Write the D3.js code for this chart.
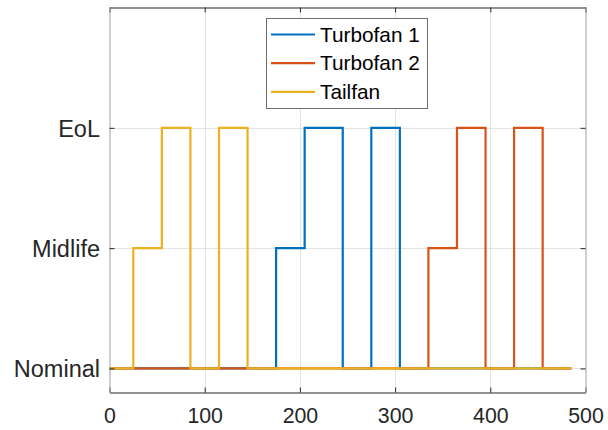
<!DOCTYPE html>
<html lang="en">
<head>
<meta charset="UTF-8">
<title>Engine health states</title>
<script src="https://d3js.org/d3.v7.min.js"></script>
<style>
  body { margin: 0; background: #fff; }
  svg { font-family: "Liberation Sans", Arial, sans-serif; }
</style>
</head>
<body>
<div id="chart"></div>
<script>
// breakpoints in time and the state held from each breakpoint on (0 = Nominal, 1 = Midlife, 2 = EoL)
const times     = [0, 25, 55, 85, 115, 145, 175, 205, 245, 275, 305, 335, 365, 395, 425, 455, 485];
const turbofan1 = [0, 0, 0, 0, 0, 0, 1, 2, 0, 2, 0, 0, 0, 0, 0, 0, 0];
const turbofan2 = [0, 0, 0, 0, 0, 0, 0, 0, 0, 0, 0, 1, 2, 0, 2, 0, 0];
const tailfan   = [0, 1, 2, 0, 2, 0, 0, 0, 0, 0, 0, 0, 0, 0, 0, 0, 0];
const stateLabels = ["Nominal", "Midlife", "EoL"];
const xTicks = [0, 100, 200, 300, 400, 500];

const series = [
  { name: "Turbofan 1", values: turbofan1, color: "#0072BD" },
  { name: "Turbofan 2", values: turbofan2, color: "#D95319" },
  { name: "Tailfan",    values: tailfan,   color: "#EDB120" }
];

const W = 608, H = 430;
const mLeft = 109.5, mRight = 585.5, mTop = 7.5, mBottom = 392.5;

const svg = d3.select("#chart").append("svg")
    .attr("width", W).attr("height", H);

const x = d3.scaleLinear().domain([0, 500]).range([mLeft, mRight]);
const y = d3.scaleLinear().domain([-0.2, 3]).range([mBottom, mTop]);

// grid
const grid = svg.append("g").attr("stroke", "#e3e3e3").attr("stroke-width", 1);
grid.selectAll(".gx").data(xTicks.slice(1, -1)).enter().append("line")
    .attr("x1", d => Math.round(x(d)) + 0.5).attr("x2", d => Math.round(x(d)) + 0.5)
    .attr("y1", mTop).attr("y2", mBottom);
grid.selectAll(".gy").data([0, 1, 2]).enter().append("line")
    .attr("y1", d => Math.round(y(d)) + 0.5).attr("y2", d => Math.round(y(d)) + 0.5)
    .attr("x1", mLeft).attr("x2", mRight);

// lines
const line = d3.line()
    .x((d, i) => x(times[i]))
    .y(d => y(d))
    .curve(d3.curveStepAfter);

svg.append("g").selectAll("path").data(series).enter().append("path")
    .attr("d", d => line(d.values))
    .attr("fill", "none")
    .attr("stroke", d => d.color)
    .attr("stroke-width", 2.2);

// axes
const xAxis = d3.axisBottom(x).tickValues(xTicks).tickSizeInner(-5).tickSizeOuter(0).tickPadding(15.5);
const gx = svg.append("g").attr("transform", `translate(0,${mBottom})`).call(xAxis);
const xTop = d3.axisTop(x).tickValues(xTicks).tickSizeInner(-5).tickSizeOuter(0).tickFormat("");
const gxt = svg.append("g").attr("transform", `translate(0,${mTop})`).call(xTop);

const yAxis = d3.axisLeft(y).tickValues([0, 1, 2]).tickFormat(d => stateLabels[d])
    .tickSizeInner(-5).tickSizeOuter(0).tickPadding(9.5);
const gy = svg.append("g").attr("transform", `translate(${mLeft},0)`).call(yAxis);
const yRight = d3.axisRight(y).tickValues([0, 1, 2]).tickFormat("").tickSizeInner(-5).tickSizeOuter(0);
const gyr = svg.append("g").attr("transform", `translate(${mRight},0)`).call(yRight);

[gx, gxt].forEach(g => {
  g.select(".domain").attr("stroke", "#262626");
  g.selectAll(".tick line").attr("stroke", "#262626");
});
[gy, gyr].forEach(g => {
  g.select(".domain").attr("stroke", "#a0a0a0");
  g.selectAll(".tick line").attr("stroke", "#262626");
});
svg.selectAll(".tick text").attr("fill", "#262626")
    .attr("font-family", "'Liberation Sans', Arial, sans-serif");
gx.selectAll(".tick text").attr("font-size", 21.3).attr("dy", "0.71em");
gy.selectAll(".tick text").attr("font-size", 23.5).attr("dy", "0.35em");

// legend
const legend = svg.append("g");
legend.append("rect")
    .attr("x", 266.5).attr("y", 18.5).attr("width", 161).attr("height", 90)
    .attr("fill", "#fff").attr("stroke", "#6e6e6e").attr("stroke-width", 1);
const rows = legend.selectAll(".row").data(series).enter().append("g")
    .attr("transform", (d, i) => `translate(0,${34.5 + i * 28.7})`);
rows.append("line")
    .attr("x1", 271).attr("x2", 315)
    .attr("stroke", d => d.color).attr("stroke-width", 2.2);
rows.append("text")
    .attr("x", 320).attr("dy", "0.35em")
    .attr("font-size", 20.8).attr("fill", "#000")
    .text(d => d.name);
</script>
</body>
</html>
